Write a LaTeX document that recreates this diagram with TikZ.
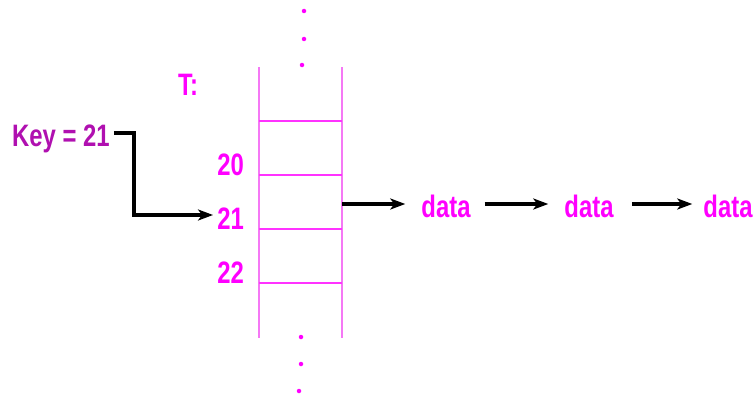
\documentclass[tikz,border=0pt]{standalone}
\usepackage{fontspec}
\setmainfont{Liberation Sans}[FakeStretch=0.77]
\usepackage{tikz}
\usetikzlibrary{arrows,arrows.meta,positioning,calc}
\definecolor{mag}{RGB}{255,0,255}
\definecolor{keycol}{RGB}{176,16,176}
\definecolor{linecol}{RGB}{245,120,245}

\begin{document}
\begin{tikzpicture}[x=1pt,y=-1pt,
  lbl/.style={text=mag, font=\bfseries\fontsize{31}{33}\selectfont, inner sep=0pt},
  dot/.style={circle, fill=mag, inner sep=0pt, minimum size=4.5pt},
  link/.style={-{Stealth[length=15pt,width=11pt,inset=4pt]}, line width=3.2pt, black}]
  \useasboundingbox (0,0) rectangle (754,396);

  % table T
  \draw [linecol, line width=1.3pt] (259,67) -- (259,338);
  \draw [linecol, line width=1.3pt] (342,67) -- (342,338);
  \foreach \y in {121,175,229,283}
    \draw [mag!80, line width=1.1pt] (259,\y) -- (342,\y);
  \node (dotA) [dot] at (304,11) {};
  \node (dotB) [dot] at (304,39) {};
  \node (dotC) [dot] at (302,65) {};
  \node (dotD) [dot] at (301,337) {};
  \node (dotE) [dot] at (301,364) {};
  \node (dotF) [dot] at (299,391) {};

  \node (T) [lbl] at (188,85) {T:};
  \node (s20) [lbl, anchor=east] at (244,165) {20};
  \node (s21) [lbl, anchor=east] at (244,219) {21};
  \node (s22) [lbl, anchor=east] at (244,273) {22};
  \node (key) [lbl, text=keycol, anchor=west] at (12,139) {Key = 21};
  \coordinate (slot) at (342,204);

  \node (d1) [lbl] at (446,206) {data};
  \node (d2) [lbl] at (589,206) {data};
  \node (d3) [lbl] at (728,206) {data};

  \draw [link] (key.east) ++(4,-6) coordinate (k) -- (134,133) |- ($(s21.west)+(-4,-4)$);
  \path [link]
  (slot) edge ($(d1.west)+(-16,-2)$)
  ($(d1.east)+(14,-2)$) edge ($(d2.west)+(-16,-2)$)
  ($(d2.east)+(18,-2)$) edge ($(d3.west)+(-11,-2)$);
\end{tikzpicture}
\end{document}
